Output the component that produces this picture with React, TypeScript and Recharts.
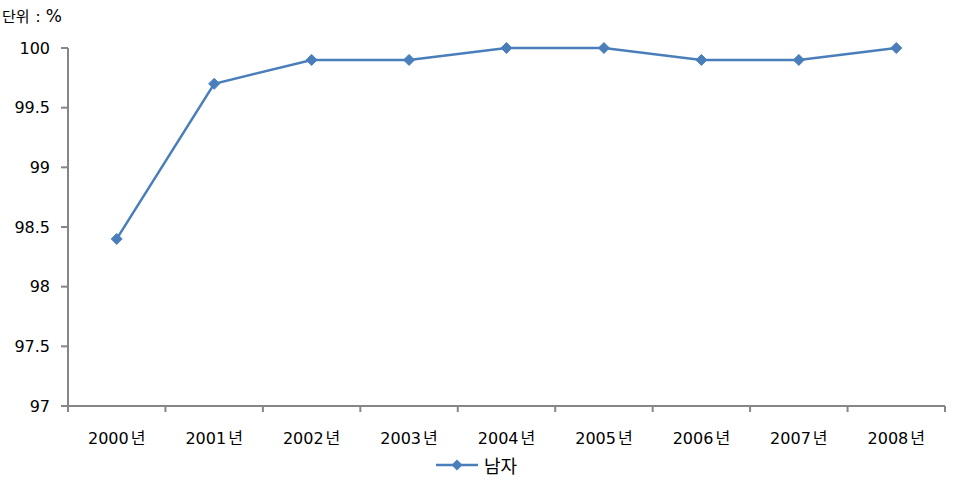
import { LineChart, Line, XAxis, YAxis, Legend } from 'recharts'

const YEARS = ['2000년', '2001년', '2002년', '2003년', '2004년', '2005년', '2006년', '2007년', '2008년']
const MALE = [98.4, 99.7, 99.9, 99.9, 100, 100, 99.9, 99.9, 100]
const Y_TICKS = [97, 97.5, 98, 98.5, 99, 99.5, 100]

const FONT = "'DejaVu Sans', 'Noto Sans CJK KR', sans-serif"
const AXIS_COLOR = '#868686'
const LINE_COLOR = '#4A7EBB'
const X_MARGIN = 32
const Y_MARGIN = 18

const chartData = YEARS.map((year, i) => ({ year, male: MALE[i] }))

function Diamond(props: any) {
  const { cx, cy } = props
  if (cx == null || cy == null) return null
  const r = 5.5
  return (
    <path
      d={`M${cx},${cy - r}L${cx + r},${cy}L${cx},${cy + r}L${cx - r},${cy}Z`}
      fill={LINE_COLOR}
      stroke={LINE_COLOR}
      strokeWidth={1}
    />
  )
}

// label centred in the band, tick marks on the band edges
function YearTick(props: any) {
  const { x, y, payload, index, visibleTicksCount } = props
  const label: string = payload.value
  const half = payload.offset || 48.7
  const axisY = y - X_MARGIN
  return (
    <g>
      <line x1={x - half} y1={axisY} x2={x - half} y2={axisY + 6} stroke={AXIS_COLOR} strokeWidth={2} />
      {index === visibleTicksCount - 1 && (
        <line x1={x + half} y1={axisY} x2={x + half} y2={axisY + 6} stroke={AXIS_COLOR} strokeWidth={2} />
      )}
      <text x={x} y={y} textAnchor="middle" dominantBaseline="central" fontFamily={FONT} fontSize={16} fill="#000">
        <tspan>{label.slice(0, 4)}</tspan>
        <tspan dx={2}>{label.slice(4)}</tspan>
      </text>
    </g>
  )
}

function ValueTick(props: any) {
  const { x, y, payload } = props
  const axisX = x + Y_MARGIN
  return (
    <g>
      <line x1={axisX - 7} y1={y} x2={axisX} y2={y} stroke={AXIS_COLOR} strokeWidth={2} />
      <text x={x} y={y} textAnchor="end" dominantBaseline="central" fontFamily={FONT} fontSize={16} fill="#000">
        {payload.value}
      </text>
    </g>
  )
}

function LegendContent() {
  return (
    <div style={{ display: 'flex', justifyContent: 'center', alignItems: 'center', height: 38 }}>
      <svg width={42} height={14} style={{ marginRight: 6 }}>
        <line x1={0} y1={7} x2={42} y2={7} stroke={LINE_COLOR} strokeWidth={2.5} />
        <path d="M21,1.5L26.5,7L21,12.5L15.5,7Z" fill={LINE_COLOR} />
      </svg>
      <span style={{ fontFamily: FONT, fontSize: 18, color: '#000' }}>남자</span>
    </div>
  )
}

export default function App() {
  return (
    <div style={{ position: 'absolute', left: 0, top: 0, width: 960, height: 495, background: '#fff' }}>
      <div style={{ position: 'absolute', left: 2, top: 5, fontFamily: FONT, fontSize: 15, color: '#000', whiteSpace: 'pre' }}>
        <span>단위</span>
        <span style={{ marginLeft: 6 }}>:</span>
        <span style={{ marginLeft: 5, fontSize: 17 }}>%</span>
      </div>
      <LineChart width={960} height={495} data={chartData} margin={{ top: 48, right: 15, left: 8, bottom: 11 }}>
        <XAxis
          dataKey="year"
          scale="band"
          tickLine={false}
          tickSize={0}
          axisLine={{ stroke: AXIS_COLOR, strokeWidth: 2 }}
          tick={<YearTick />}
          tickMargin={X_MARGIN}
          height={40}
          interval={0}
        />
        <YAxis
          domain={[97, 100]}
          ticks={Y_TICKS}
          width={60}
          axisLine={{ stroke: AXIS_COLOR, strokeWidth: 2 }}
          tickLine={false}
          tickSize={0}
          tickMargin={Y_MARGIN}
          tick={<ValueTick />}
        />
        <Legend verticalAlign="bottom" height={38} content={<LegendContent />} />
        <Line
          dataKey="male"
          name="남자"
          stroke={LINE_COLOR}
          strokeWidth={2.5}
          dot={<Diamond />}
          activeDot={false}
          isAnimationActive={false}
        />
      </LineChart>
    </div>
  )
}
